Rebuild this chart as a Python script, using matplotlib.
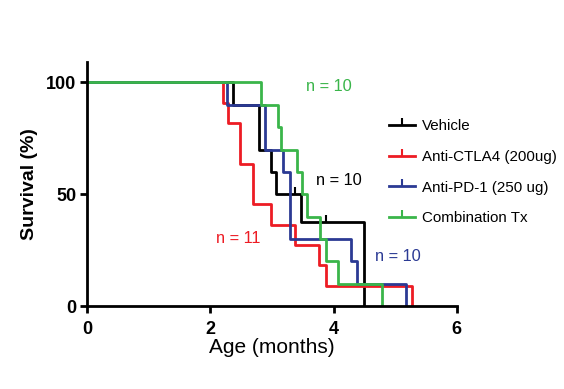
import matplotlib.pyplot as plt
from matplotlib.lines import Line2D

plt.rcParams['font.family'] = ['Liberation Sans', 'DejaVu Sans']

# Kaplan-Meier step curves (time in months, survival in %)
veh_t = [0, 2.37, 2.79, 2.98, 3.07, 3.48, 4.49, 4.49]
veh_s = [100, 90, 70, 60, 50, 37.5, 0, 0]
veh_cens_t = [3.38, 3.88]
veh_cens_s = [50, 37.5]

ctla_t = [0, 2.20, 2.29, 2.49, 2.69, 2.98, 3.37, 3.77, 3.88, 5.28]
ctla_s = [100, 90.9, 81.8, 63.6, 45.5, 36.4, 27.3, 18.2, 9.1, 0]

pd1_t = [0, 2.27, 2.89, 3.18, 3.29, 4.29, 4.38, 5.18]
pd1_s = [100, 90, 70, 60, 30, 20, 10, 0]

combo_t = [0, 2.82, 3.10, 3.15, 3.40, 3.49, 3.57, 3.78, 3.88, 4.07, 4.78]
combo_s = [100, 90, 80, 70, 60, 50, 40, 30, 20, 10, 0]

labels = ['Vehicle', 'Anti-CTLA4 (200ug)', 'Anti-PD-1 (250 ug)', 'Combination Tx']
colors = ['#000000', '#ED1C24', '#2B3A94', '#3AB54A']

fig = plt.figure(figsize=(5.64, 3.89), dpi=100)
ax = fig.add_axes([0.154, 0.213, 0.656, 0.627])

lw = 2.0
ax.step(veh_t, veh_s, where='post', color=colors[0], lw=lw)
ax.step(ctla_t, ctla_s, where='post', color=colors[1], lw=lw)
ax.step(pd1_t, pd1_s, where='post', color=colors[2], lw=lw)
ax.step(combo_t, combo_s, where='post', color=colors[3], lw=lw)
ax.plot(veh_cens_t, veh_cens_s, ls='none', marker=2, ms=5, mew=1.5, color=colors[0])

ax.set_xlim(0, 6)
ax.set_ylim(0, 109)
ax.set_xticks([0, 2, 4, 6])
ax.set_yticks([0, 50, 100])
for s in ['top', 'right']:
    ax.spines[s].set_visible(False)
for s in ['left', 'bottom']:
    ax.spines[s].set_linewidth(2)
ax.tick_params(width=2, length=5, labelsize=13)
ax.tick_params(axis='x', pad=6)
ax.tick_params(axis='y', pad=2.5)
for lab in ax.get_xticklabels() + ax.get_yticklabels():
    lab.set_fontweight('bold')

ax.set_ylabel('Survival (%)', fontsize=14, fontweight='bold', labelpad=6)
ax.set_xlabel('Age (months)', fontsize=15, labelpad=0)

ax.text(3.56, 98.2, 'n = 10', color=colors[3], fontsize=11.8, ha='left', va='center')
ax.text(3.71, 56.3, 'n = 10', color=colors[0], fontsize=11.8, ha='left', va='center')
ax.text(2.09, 30.4, 'n = 11', color=colors[1], fontsize=11.8, ha='left', va='center')
ax.text(4.68, 22.3, 'n = 10', color=colors[2], fontsize=11.8, ha='left', va='center')

handles = [Line2D([0], [0], color=c, lw=2, marker=2, ms=5, mew=1.5) for c in colors]
fig.legend(handles, labels, loc='upper left', bbox_to_anchor=(0.665, 0.728),
           frameon=False, fontsize=10.9, handlelength=1.72, handletextpad=0.46,
           labelspacing=1.1)

fig.savefig('out.png', dpi=100)
